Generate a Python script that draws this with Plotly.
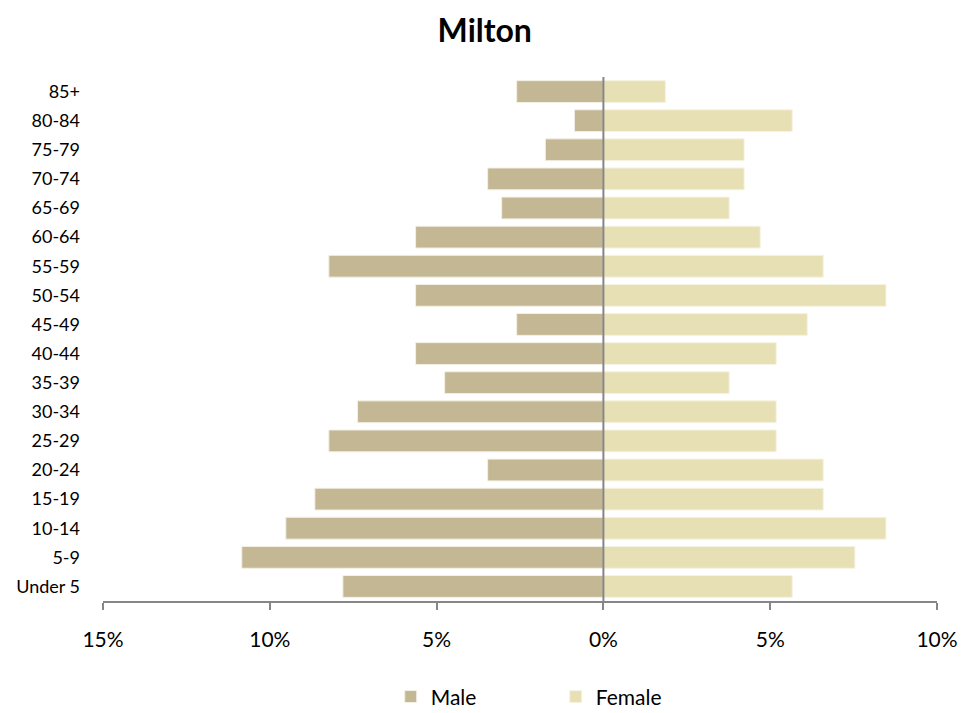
import plotly.graph_objects as go

age_groups = ["Under 5", "5-9", "10-14", "15-19", "20-24", "25-29", "30-34", "35-39",
              "40-44", "45-49", "50-54", "55-59", "60-64", "65-69", "70-74", "75-79",
              "80-84", "85+"]
male_pct = [7.81, 10.84, 9.52, 8.65, 3.47, 8.23, 7.37, 4.76,
            5.63, 2.6, 5.63, 8.23, 5.63, 3.05, 3.47, 1.74,
            0.87, 2.6]
female_pct = [5.66, 7.54, 8.47, 6.59, 6.59, 5.18, 5.18, 3.77,
              5.18, 6.11, 8.47, 6.59, 4.7, 3.77, 4.22, 4.22,
              5.66, 1.86]
tick_vals = [-15, -10, -5, 0, 5, 10]
tick_text = ["15%", "10%", "5%", "0%", "5%", "10%"]

FONT = "Lato, 'Open Sans', sans-serif"

fig = go.Figure()
fig.add_trace(go.Bar(
    y=age_groups, x=[-v for v in male_pct], orientation="h", name="Male",
    marker=dict(color="#C4B793", line=dict(color="#F3F0E6", width=1)),
))
fig.add_trace(go.Bar(
    y=age_groups, x=female_pct, orientation="h", name="Female",
    marker=dict(color="#E8E0B5", line=dict(color="#F6F3E3", width=1)),
))

# vertical reference line at 0
fig.add_shape(type="line", xref="x", yref="paper", x0=0, x1=0, y0=0, y1=1,
              line=dict(color="#868686", width=2), layer="above")

fig.update_layout(
    width=979, height=713,
    barmode="relative", bargap=0.25,
    paper_bgcolor="white", plot_bgcolor="white",
    margin=dict(l=95, r=50, t=69, b=120, autoexpand=False),
    font=dict(family=FONT, size=18, color="#000000"),
    title=dict(text="<b>Milton</b>", x=0.487, xanchor="center",
               yref="container", y=0.968, yanchor="middle",
               font=dict(family=FONT, size=32, color="#000000")),
    legend=dict(orientation="h", x=0.345, xanchor="left", y=-0.183, yanchor="middle",
                font=dict(family=FONT, size=21), itemwidth=30,
                entrywidth=120, entrywidthmode="pixels",
                traceorder="normal"),
    xaxis=dict(range=[-15, 10], tickvals=tick_vals, ticktext=tick_text,
               showgrid=False, zeroline=False,
               showline=True, linecolor="#868686", linewidth=2,
               ticks="outside", ticklen=7, tickcolor="#868686", tickwidth=2,
               ticklabelstandoff=12, tickfont=dict(size=21), layer="above traces",
               fixedrange=True),
    yaxis=dict(showgrid=False, zeroline=False, showline=False, ticks="",
               ticklabelstandoff=22, tickfont=dict(size=18), fixedrange=True),
)

fig.write_html("out.html")
